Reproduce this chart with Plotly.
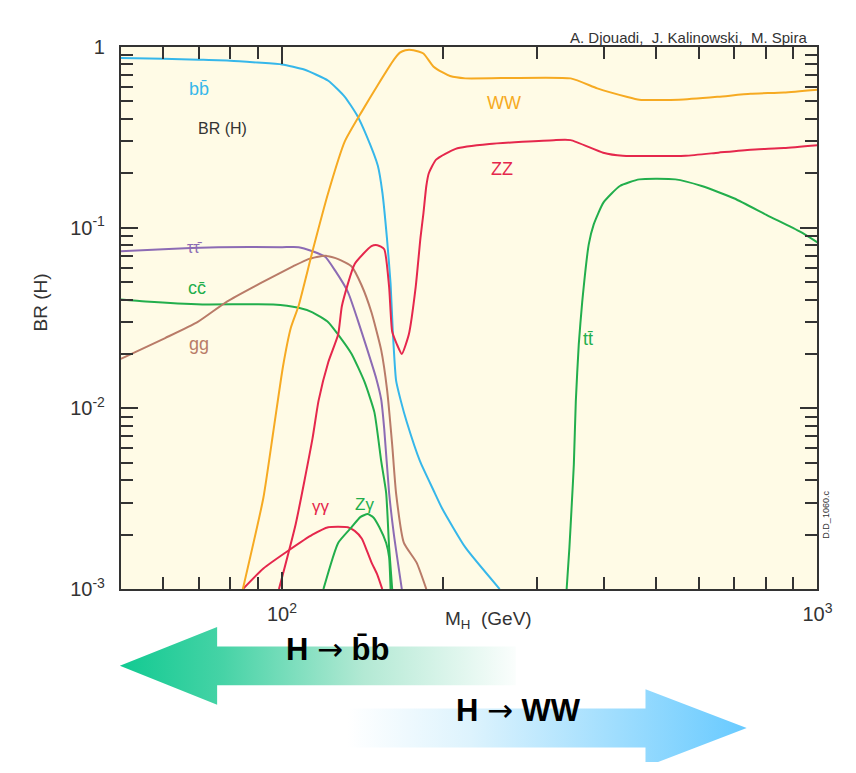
import math
import plotly.graph_objects as go

# Branching ratios of the SM Higgs boson versus its mass M_H (GeV)
m_bb = [50, 60, 70, 80, 90, 100, 110, 122, 131, 138, 144, 151, 154, 157, 159.5, 161,
        163.3, 166.7, 171, 181, 192, 199, 220, 255]
br_bb = [0.87, 0.86, 0.85, 0.84, 0.82, 0.80, 0.75, 0.65, 0.53, 0.42, 0.32, 0.22, 0.156,
         0.088, 0.049, 0.027, 0.0143, 0.011, 0.0084, 0.0051, 0.0035, 0.0028, 0.0017, 0.001]

m_ww = [84.5, 92.3, 96.3, 100.4, 103.9, 107.4, 114, 122, 131, 141, 150.7, 161.8, 166,
        170, 176, 183.7, 191.7, 200, 206, 220, 346, 388, 440, 465, 551, 653, 750, 866, 1000]
br_ww = [0.001, 0.0032, 0.0074, 0.017, 0.028, 0.037, 0.074, 0.156, 0.30, 0.44, 0.61, 0.85,
         0.93, 0.96, 0.96, 0.92, 0.78, 0.72, 0.69, 0.67, 0.67, 0.59, 0.53, 0.51, 0.51, 0.53,
         0.55, 0.56, 0.58]

m_zz = [98.7, 106.1, 114, 117, 122, 127.3, 129.4, 136.7, 146.9, 150.7, 155.2, 158.5,
        160.6, 163.9, 167.4, 172.5, 177.7, 181.4, 183.7, 186, 188, 194, 211, 244, 322, 346,
        398, 433, 567, 653, 750, 866, 1000]
br_zz = [0.001, 0.0023, 0.0068, 0.011, 0.018, 0.0256, 0.037, 0.063, 0.079, 0.080, 0.076,
         0.047, 0.0266, 0.0226, 0.020, 0.0256, 0.047, 0.088, 0.12, 0.17, 0.20, 0.238, 0.273,
         0.29, 0.305, 0.305, 0.26, 0.25, 0.25, 0.26, 0.27, 0.276, 0.286]

m_tt = [340.1, 344.2, 347.8, 350.8, 353.8, 358.3, 363.6, 374.1, 382, 398.6, 427.6, 465,
        543, 608, 700, 806, 928, 1000]
br_tt = [0.001, 0.0017, 0.0030, 0.0049, 0.011, 0.0226, 0.0386, 0.081, 0.104, 0.138, 0.17,
         0.185, 0.185, 0.17, 0.145, 0.117, 0.095, 0.083]

m_tautau = [50, 60, 76, 100, 107.4, 114, 120.4, 125.6, 132.8, 138.4, 144.4, 150, 153.2,
            155.2, 158.5, 161.8, 167.4]
br_tautau = [0.074, 0.076, 0.078, 0.078, 0.078, 0.074, 0.069, 0.058, 0.044, 0.031, 0.021,
             0.0146, 0.0112, 0.0077, 0.0034, 0.0020, 0.001]

m_gg = [50, 60.5, 69.5, 78.9, 90.8, 104.8, 112, 120.4, 127.3, 134.9, 140.8, 146.9, 153.2,
        157.1, 160.6, 163.3, 168.9, 178.4, 186]
br_gg = [0.0188, 0.0245, 0.030, 0.039, 0.049, 0.061, 0.067, 0.070, 0.067, 0.061, 0.048,
         0.034, 0.021, 0.0127, 0.0063, 0.0034, 0.0018, 0.0014, 0.001]

m_cc = [50, 55.6, 71, 96.3, 107.4, 114, 122, 127.3, 134.9, 142.6, 148.8, 153.2, 156.5,
        158.5, 160.6]
br_cc = [0.040, 0.039, 0.0376, 0.0376, 0.036, 0.034, 0.030, 0.0256, 0.020, 0.0140, 0.0095,
         0.0051, 0.0034, 0.0017, 0.001]

m_gamgam = [84.5, 92.3, 103, 114, 122, 132.7, 136.7, 141, 144.4, 147, 150.7, 153.9]
br_gamgam = [0.001, 0.0013, 0.00164, 0.0020, 0.0022, 0.0022, 0.0021, 0.0019, 0.0016,
             0.0014, 0.0012, 0.001]

m_zgam = [119.5, 127.3, 134.9, 140, 144.5, 148, 152, 156.5, 158.5, 159.5]
br_zgam = [0.001, 0.0018, 0.0022, 0.0025, 0.0026, 0.0025, 0.0022, 0.0018, 0.0015, 0.001]

x_tickvals = [100, 1000]
x_ticktext = ["10<sup>2</sup>", "10<sup>3</sup>"]
x_minor = [60, 70, 80, 90, 200, 300, 400, 500, 600, 700, 800, 900]
y_tickvals = [0.001, 0.01, 0.1, 1]
y_ticktext = ["10<sup>-3</sup>", "10<sup>-2</sup>", "10<sup>-1</sup>", "1"]
y_minor = [k * 10 ** e for e in (-3, -2, -1) for k in range(2, 10)]

CYAN = "#36B7EA"
ORANGE = "#F6AA22"
RED = "#E5274C"
PURPLE = "#8C6BB4"
GREEN = "#22AE4C"
BROWN = "#B97B68"
INK = "#333333"

W, H = 856, 773
PLOT_L, PLOT_R, PLOT_T, PLOT_B = 123, 832, 37, 595


def fx(px):
    return px / W


def fy(py):
    return 1 - py / H


fig = go.Figure()

curves = [
    (m_bb, br_bb, CYAN),
    (m_tautau, br_tautau, PURPLE),
    (m_cc, br_cc, GREEN),
    (m_gg, br_gg, BROWN),
    (m_gamgam, br_gamgam, RED),
    (m_zgam, br_zgam, GREEN),
    (m_tt, br_tt, GREEN),
    (m_ww, br_ww, ORANGE),
    (m_zz, br_zz, RED),
]
for m, br, col in curves:
    fig.add_trace(go.Scatter(x=m, y=br, mode="lines",
                             line=dict(color=col, width=2, shape="spline", smoothing=0.5),
                             hoverinfo="skip", xaxis="x", yaxis="y"))

# Decay-channel arrows drawn on an auxiliary, invisible pair of axes
bb_arrow_x = [122, 221, 221, 525, 525, 221, 221, 122]
bb_arrow_y = [674, 634, 654, 654, 694, 694, 714, 674]
ww_arrow_x = [347, 657, 657, 760, 657, 657, 347, 347]
ww_arrow_y = [718, 718, 698, 738, 778, 758, 758, 718]

fig.add_trace(go.Scatter(
    x=bb_arrow_x, y=bb_arrow_y, mode="lines", fill="toself", line=dict(width=0),
    fillgradient=dict(type="horizontal", start=122, stop=525,
                      colorscale=[[0, "#12CA92"], [0.25, "#46D3A6"], [0.6, "#B3E9D4"],
                                  [1, "#FFFFFF"]]),
    hoverinfo="skip", xaxis="x2", yaxis="y2"))
fig.add_trace(go.Scatter(
    x=ww_arrow_x, y=ww_arrow_y, mode="lines", fill="toself", line=dict(width=0),
    fillgradient=dict(type="horizontal", start=347, stop=760,
                      colorscale=[[0, "#FFFFFF"], [0.3, "#DDF3FD"], [1, "#62C8FF"]]),
    hoverinfo="skip", xaxis="x2", yaxis="y2"))

axis_common = dict(showline=True, linewidth=2, linecolor=INK, mirror="ticks",
                   ticks="inside", ticklen=17, tickwidth=1.5, tickcolor=INK,
                   showgrid=False, zeroline=False,
                   tickfont=dict(family="Liberation Sans, Arial, sans-serif", size=20,
                                 color=INK))

fig.update_layout(
    width=W, height=H,
    margin=dict(l=0, r=0, t=0, b=0),
    paper_bgcolor="white",
    plot_bgcolor="rgba(0,0,0,0)",
    showlegend=False,
    xaxis=dict(type="log", range=[math.log10(50), 3],
               domain=[fx(PLOT_L), fx(PLOT_R)], anchor="y",
               tickvals=x_tickvals, ticktext=x_ticktext, ticklabelstandoff=6,
               minor=dict(ticks="inside", ticklen=12, tickwidth=1.5, tickcolor=INK,
                          tickvals=x_minor, showgrid=False),
               **axis_common),
    yaxis=dict(type="log", range=[-3, 0],
               domain=[fy(PLOT_B), fy(PLOT_T)], anchor="x",
               tickvals=y_tickvals, ticktext=y_ticktext, ticklabelstandoff=10,
               minor=dict(ticks="inside", ticklen=12, tickwidth=1.5, tickcolor=INK,
                          tickvals=y_minor, showgrid=False),
               **axis_common),
    xaxis2=dict(domain=[0, 1], range=[0, W], anchor="y2", visible=False),
    yaxis2=dict(domain=[0, fy(PLOT_B)], range=[H, PLOT_B], anchor="x2", visible=False),
    shapes=[dict(type="rect", xref="x domain", yref="y domain", x0=0, x1=1, y0=0, y1=1,
                 fillcolor="#FFFBE6", line=dict(width=0), layer="below")],
)

FONT = "Liberation Sans, Arial, Helvetica, sans-serif"
labels = [
    ("bb\u0304", 190, 68, CYAN, 18),
    ("BR (H)", 200, 110, INK, 16),
    ("\u03c4\u03c4\u0304", 188, 233, PURPLE, 16),
    ("cc\u0304", 189, 285, GREEN, 18),
    ("gg", 190, 343, BROWN, 18),
    ("WW", 513, 82, ORANGE, 18),
    ("ZZ", 511, 150, RED, 18),
    ("tt\u0304", 606, 338, GREEN, 18),
    ("\u03b3\u03b3", 327, 522, RED, 17),
    ("Z\u03b3", 371, 508, GREEN, 17),
]
for text, px, py, col, size in labels:
    fig.add_annotation(text=text, x=fx(px), y=fy(py), xref="paper", yref="paper",
                       showarrow=False, font=dict(family=FONT, size=size, color=col))

fig.add_annotation(text="A. Djouadi,  J. Kalinowski,  M. Spira", x=fx(823), y=fy(16),
                   xref="paper", yref="paper", xanchor="right", showarrow=False,
                   font=dict(family=FONT, size=15, color=INK))
fig.add_annotation(text="BR (H)", x=fx(28), y=fy(300), xref="paper", yref="paper",
                   textangle=-90, showarrow=False, font=dict(family=FONT, size=19, color=INK))
fig.add_annotation(text="M<sub>H</sub>  (GeV)", x=fx(497), y=fy(641), xref="paper",
                   yref="paper", showarrow=False, font=dict(family=FONT, size=19, color=INK))
fig.add_annotation(text="D.D_1060.c", x=fx(848), y=fy(545), xref="paper", yref="paper",
                   textangle=-90, showarrow=False, font=dict(family=FONT, size=9, color=INK))

ARROW_FONT = "Liberation Sans Narrow, Arial Narrow, Liberation Sans, sans-serif"
ARROW_GLYPH = '<span style="font-family:DejaVu Sans;font-weight:normal">\u2192</span>'
fig.add_annotation(text="<b>H </b>" + ARROW_GLYPH + "<b> b\u0304b</b>", x=fx(344), y=fy(677),
                   xref="paper", yref="paper", showarrow=False,
                   font=dict(family=ARROW_FONT, size=31, color="black"))
fig.add_annotation(text="<b>H </b>" + ARROW_GLYPH + "<b> WW</b>", x=fx(528), y=fy(740),
                   xref="paper", yref="paper", showarrow=False,
                   font=dict(family=ARROW_FONT, size=31, color="black"))

fig.write_html("out.html")
